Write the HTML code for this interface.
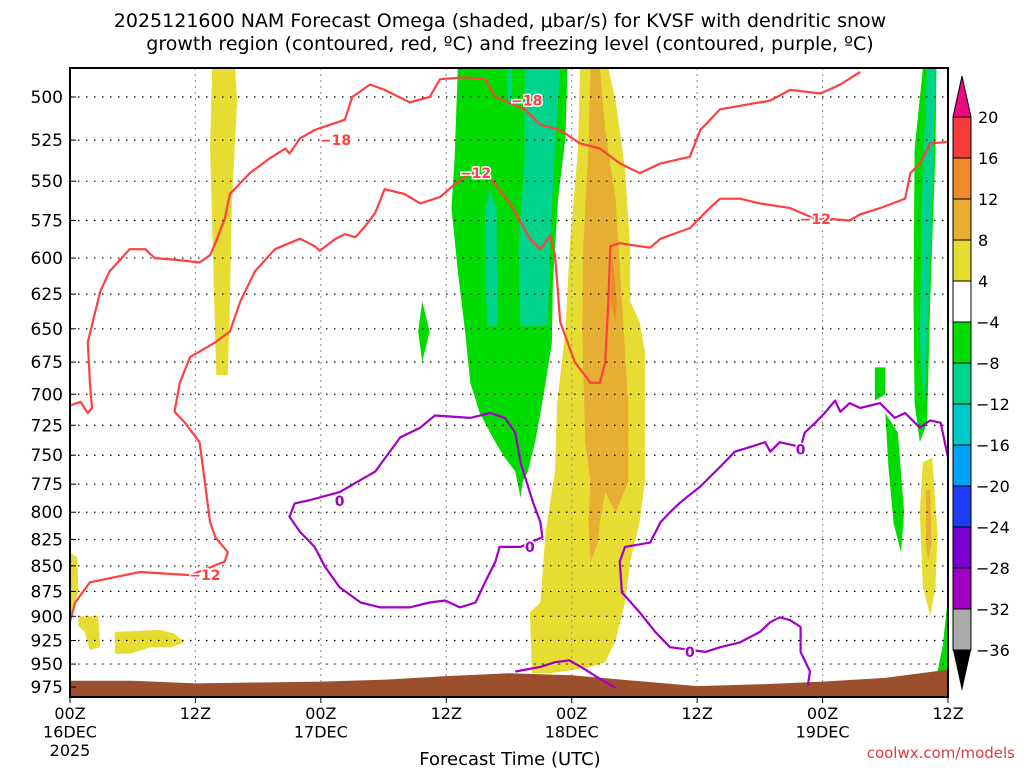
<!DOCTYPE html>
<html><head><meta charset="utf-8"><style>
body{margin:0;background:#fff;}
svg{display:block;font-family:"DejaVu Sans","Liberation Sans",sans-serif;}
</style></head><body>
<svg id="chart" width="1024" height="768" viewBox="0 0 1024 768" xmlns="http://www.w3.org/2000/svg">
<rect width="1024" height="768" fill="#fff"/>
<text x="500" y="27" font-size="19" text-anchor="middle">2025121600 NAM Forecast Omega (shaded, μbar/s) for KVSF with dendritic snow</text>
<text x="510" y="50" font-size="19" text-anchor="middle">growth region (contoured, red, ºC) and freezing level (contoured, purple, ºC)</text>
<g id="plot"></g>
<g id="axes"></g>
<g id="cbar"></g>
<text x="510" y="765" font-size="18" text-anchor="middle">Forecast Time (UTC)</text>
<text x="1015" y="758" font-size="15" text-anchor="end" fill="#e03c3c">coolwx.com/models</text>
</svg>
<script>
// ---- data ----
const yTicks=[500,525,550,575,600,625,650,675,700,725,750,775,800,825,850,875,900,925,950,975];
const xTickHours=[0,12,24,36,48,60,72,84];
const xTickLabels=[["00Z","16DEC","2025"],["12Z"],["00Z","17DEC"],["12Z"],["00Z","18DEC"],["12Z"],["00Z","19DEC"],["12Z"]];
const cbarLevels=[20,16,12,8,4,-4,-8,-12,-16,-20,-24,-28,-32,-36];
const cbarColors=["#f53c3c","#ef8a2c","#e6ae32","#e6dc32","#ffffff","#00dc00","#00d48c","#00c8c8","#00a0f5","#1e3cf5","#7800d2","#a000c0","#aaaaaa"];
const terrainHours=[0,6,12,18,24,30,36,42,48,54,60,66,72,78,84];
const terrainP=[968,968,971,970,969,967,963,960,962,968,974,972,969,965,956];
// shaded regions: [color, [[hour,hPa],...]]
const shadeYellow=[
[[13.6,484],[15.8,484],[16,502],[15.5,561],[15.3,630],[15.1,685],[14,685],[13.8,630],[13.4,530]],
[[48.8,484],[51.5,484],[52.2,502],[53.1,542],[53.6,594],[53.6,630],[54.5,645],[55,667],[55,773],[54.5,809],[53.6,846],[53.1,886],[52.2,925],[51.2,948],[49.8,953],[48.3,956],[45.9,960],[44.2,960],[44,896],[45,886],[45.5,818],[46.4,764],[46.6,707],[47.4,652],[47.8,594],[48.6,530]],
[[0,837],[0.7,842],[0.8,876],[0.3,890],[0,900]],
[[0.8,900],[2.7,900],[2.9,932],[1.9,935],[1.4,916],[0.8,910]],
[[4.3,916],[8.6,914],[10,918],[11,927],[9.6,932],[7.7,932],[5.8,939],[4.3,939]],
[[81.6,756],[82.5,752],[83,820],[82.8,870],[82.3,900],[81.6,870],[81.3,800]]
];
const shadeOrange8=[
[[49.8,484],[50.7,484],[51.2,519],[52.2,561],[52.8,630],[53.4,707],[53.4,773],[52.2,800],[51.2,782],[50.7,809],[50.5,828],[49.8,846],[49.6,809],[49.8,773],[49.3,739],[49,652],[49.1,594],[49.6,530]],
[[81.9,780],[82.3,780],[82.4,830],[82.1,845],[81.9,830]]
];
const shadeOrange12=[[[51.9,598],[52.3,630],[52.2,645],[51.7,630]]];
const shadeGreen=[
[[37.1,484],[47.6,484],[47.4,524],[46.7,561],[46.2,616],[46.1,660],[45.5,691],[45,715],[44.5,739],[43.8,764],[43.3,773],[43.1,787],[42.6,764],[41.6,752],[40.7,739],[40.2,731],[39.2,715],[38.3,691],[37.8,652],[37.1,609],[36.5,567],[36.8,536]],
[[33.3,652],[33.7,630],[34.4,652],[33.7,675]],
[[81.6,484],[82.9,484],[82.8,530],[82.3,630],[82,723],[81.3,739],[80.8,707],[80.7,630],[80.8,530]],
[[78,715],[79.2,731],[79.8,800],[79.5,837],[78.8,810],[78.3,760]],
[[77,679],[78,679],[78,700],[77,705]],
[[83,958],[83.5,930],[84,880],[84,958]]
];
const shadeTeal=[
[[39.7,567],[40.2,555],[40.8,567],[40.9,648],[39.9,648],[39.7,594]],
[[43.5,484],[46.9,484],[46.4,530],[45.9,594],[45.7,648],[43.1,648],[42.9,594],[43.5,536]],
[[41.8,484],[42.3,484],[42.3,505],[41.9,505]],
[[82,484],[82.8,484],[82.5,560],[82,660],[81.7,710],[81.3,660],[81.5,560]]
];
const contourM18=[[0,709],[1,706],[1.7,715],[2.1,711],[1.9,691],[1.7,660],[2.4,638],[2.9,623],[3.8,609],[4.8,601],[5.7,594],[7.2,594],[8.1,600],[10,601],[12.4,603],[13.4,598],[13.9,590],[14.8,574],[15.3,558],[17.2,545],[19.1,536],[20.6,530],[21,533],[22,524],[23.4,519],[26.3,513],[27,500],[28.7,493],[30.1,496],[32.5,503],[34.4,500],[35.4,490],[37.8,489],[39.7,490],[40.7,500],[43.5,507],[45,516],[46.9,519],[48.8,527],[50.7,530],[52.6,539],[54.5,545],[56.5,539],[59.3,535],[60.3,519],[62.2,507],[67,502],[68.9,496],[71.8,498],[73.7,493],[75.6,486]];
const contourM12=[[0,905],[0.5,886],[1.9,866],[3.8,862],[6.7,856],[11.5,859],[14.8,846],[15.1,837],[13.9,823],[13.4,809],[12.9,773],[12.4,739],[11,723],[10,714],[10.5,691],[11.5,671],[12.4,667],[13.9,660],[15.3,652],[16.3,630],[17.7,609],[19.6,594],[22,587],[23.4,592],[23.9,595],[25.4,587],[26.3,584],[27.3,586],[28.2,579],[29.2,570],[30.1,555],[32,558],[33.5,564],[35.4,560],[36.8,552],[38.3,545],[40.2,548],[42.1,564],[44,587],[45,594],[45.9,585],[46.4,598],[46.6,616],[46.9,645],[48.3,675],[49.8,691],[50.7,691],[51.2,675],[51.5,630],[51.7,592],[52.6,590],[55.5,593],[56.5,587],[59.3,580],[61.2,567],[62.2,561],[64.1,561],[66,564],[68.9,567],[71.3,574],[72.7,574],[74.6,575],[75.6,571],[77.5,567],[79.9,561],[80.4,545],[81.3,539],[82.3,527],[84,526]];
const contourZeroLoop=[[23,789],[25.8,782],[29.2,764],[31.6,735],[33.5,727],[34.9,717],[38.3,719],[40.2,715],[41.6,719],[42.6,731],[43.1,756],[44.3,791],[45,809],[45.2,823],[43.1,832],[41.1,832],[40.7,846],[39.7,866],[38.8,886],[37.3,891],[35.9,884],[34.4,886],[32.5,891],[29.7,891],[27.8,886],[25.8,871],[24.4,851],[23.4,832],[22,818],[21,804],[21.5,792],[23,789]];
const contourZeroBottom=[[42.6,958],[45,953],[46.4,948],[47.8,946],[49.3,956],[50.7,966],[52.2,976]];
const contourZeroRight=[[84,752],[83.3,723],[82.3,721],[81.3,727],[79.9,715],[78.9,719],[77.5,707],[75.6,711],[74.6,707],[73.7,714],[73.2,705],[72.2,715],[71.3,723],[70.3,731],[69.9,743],[67.9,739],[67,747],[66.5,739],[65.1,743],[63.6,747],[62.2,760],[60.3,777],[58.4,791],[57.4,800],[56.5,809],[55.5,828],[53.1,832],[52.6,846],[52.8,876],[54.5,896],[56,916],[57.4,932],[60.8,937],[62.2,932],[64.1,927],[66,916],[67,906],[67.9,901],[68.9,904],[69.9,911],[69.9,937],[70.8,958],[70.6,973]];
const labelsM18=[[25.4,525],[43.7,502]];
const labelsM12=[[12.9,859],[38.8,545],[71.3,574]];
const labelsZero=[[25.8,790],[44,832],[69.9,745],[59.3,937]];

// ---- scales ----
const X0=70,X1=948,Y0=68,Y1=697,H0=0,H1=84;
const yRef=97,yK=883.5;
function xs(h){return X0+(h-H0)/(H1-H0)*(X1-X0);}
function ys(p){return yRef+yK*(Math.log(p)-Math.log(500));}
const NS="http://www.w3.org/2000/svg";
function mk(tag,parent){const e=document.createElementNS(NS,tag);parent.appendChild(e);return e;}
const plot=document.getElementById('plot'),axes=document.getElementById('axes'),cbar=document.getElementById('cbar');
const pts=a=>a.map(d=>xs(d[0]).toFixed(1)+","+ys(d[1]).toFixed(1)).join(" ");

// clip
const defs=mk('defs',plot);const cp=mk('clipPath',defs);cp.setAttribute('id','clip');
const cr=mk('rect',cp);cr.setAttribute('x',X0);cr.setAttribute('y',Y0);cr.setAttribute('width',X1-X0);cr.setAttribute('height',Y1-Y0);
const g=mk('g',plot);g.setAttribute('clip-path','url(#clip)');

function shade(list,color,name){list.forEach(poly=>{const e=mk('polygon',g);


e.setAttribute('points',pts(poly));e.setAttribute('fill',color);});}
shade(shadeGreen,"#00dc00",'omega-shade-minus4');
shade(shadeTeal,"#00d48c",'omega-shade-minus8');
shade(shadeYellow,"#e6dc32",'omega-shade-4');
shade(shadeOrange8,"#e6ae32",'omega-shade-8');
shade(shadeOrange12,"#ef8a2c",'omega-shade-12');

// grid
yTicks.forEach(p=>{const l=mk('line',g);


l.setAttribute('x1',X0);l.setAttribute('x2',X1);l.setAttribute('y1',ys(p));l.setAttribute('y2',ys(p));
l.setAttribute('stroke','#000');l.setAttribute('stroke-width','1.2');l.setAttribute('stroke-dasharray','1.5 6.5');});
xTickHours.forEach(h=>{const l=mk('line',g);


l.setAttribute('x1',xs(h));l.setAttribute('x2',xs(h));l.setAttribute('y1',Y0);l.setAttribute('y2',Y1);
l.setAttribute('stroke','#999');l.setAttribute('stroke-width','1.2');l.setAttribute('stroke-dasharray','2 4');});

// terrain
const tpoly=terrainHours.map((h,i)=>[h,terrainP[i]]);
const terr=mk('polygon',g);


terr.setAttribute('points',pts(tpoly)+` ${X1},${Y1} ${X0},${Y1}`);terr.setAttribute('fill','#9c4f2c');

function line(a,color,name){const e=mk('polyline',g);


e.setAttribute('points',pts(a));e.setAttribute('fill','none');e.setAttribute('stroke',color);e.setAttribute('stroke-width','2.2');e.setAttribute('stroke-linejoin','round');}
line(contourM18,"#ff4040",'dgz-contour-minus18');
line(contourM12,"#ff4040",'dgz-contour-minus12');
line(contourZeroLoop,"#a000c8",'freezing-contour-loop');
line(contourZeroBottom,"#a000c8",'freezing-contour-bottom');
line(contourZeroRight,"#a000c8",'freezing-contour-right');
function labels(list,txt,color,name){list.forEach(d=>{const t=mk('text',g);


t.setAttribute('x',xs(d[0]));t.setAttribute('y',ys(d[1])+5);t.setAttribute('text-anchor','middle');
t.setAttribute('font-size','14');t.setAttribute('font-weight','bold');t.setAttribute('fill',color);
t.setAttribute('stroke','#fff');t.setAttribute('stroke-width','3');t.setAttribute('paint-order','stroke');t.textContent=txt;});}
labels(labelsM18,"−18","#ff4040",'contour-label-minus18');
labels(labelsM12,"−12","#ff4040",'contour-label-minus12');
labels(labelsZero,"0","#a000c8",'contour-label-zero');

// frame
const fr=mk('rect',axes);


fr.setAttribute('x',X0);fr.setAttribute('y',Y0);fr.setAttribute('width',X1-X0);fr.setAttribute('height',Y1-Y0);
fr.setAttribute('fill','none');fr.setAttribute('stroke','#000');fr.setAttribute('stroke-width','2');

yTicks.forEach(p=>{const t=mk('text',axes);


t.setAttribute('x',63);t.setAttribute('y',ys(p)+6);t.setAttribute('text-anchor','end');t.setAttribute('font-size','17');t.textContent=p;
const k=mk('line',axes);


k.setAttribute('x1',X0);k.setAttribute('x2',X0+6);k.setAttribute('y1',ys(p));k.setAttribute('y2',ys(p));k.setAttribute('stroke','#000');});
xTickHours.forEach((h,i)=>{const k=mk('line',axes);


k.setAttribute('x1',xs(h));k.setAttribute('x2',xs(h));k.setAttribute('y1',Y1);k.setAttribute('y2',Y1+6);k.setAttribute('stroke','#000');
xTickLabels[i].forEach((s,j)=>{const t=mk('text',axes);


t.setAttribute('x',xs(h));t.setAttribute('y',719+j*18.5);t.setAttribute('text-anchor','middle');t.setAttribute('font-size','16');t.textContent=s;});});

// colorbar
const CB0=117,CBS=41,CX=953,CW=18;
cbarColors.forEach((c,i)=>{const r=mk('rect',cbar);


r.setAttribute('x',CX);r.setAttribute('y',CB0+i*CBS);r.setAttribute('width',CW);r.setAttribute('height',CBS);r.setAttribute('fill',c);r.setAttribute('stroke','#000');r.setAttribute('stroke-width','1');});
const up=mk('polygon',cbar);


up.setAttribute('points',`${CX},${CB0} ${CX+CW/2},76 ${CX+CW},${CB0}`);up.setAttribute('fill','#eb0a82');up.setAttribute('stroke','#000');
const dn=mk('polygon',cbar);


const cbEnd=CB0+cbarColors.length*CBS;
dn.setAttribute('points',`${CX},${cbEnd} ${CX+CW/2},691 ${CX+CW},${cbEnd}`);dn.setAttribute('fill','#000');
cbarLevels.forEach((v,i)=>{const t=mk('text',cbar);


t.setAttribute('x',v<0?976:978);t.setAttribute('y',CB0+i*CBS+6);t.setAttribute('font-size','16');t.textContent=(v<0?"−"+(-v):v);});
</script>
</body></html>
